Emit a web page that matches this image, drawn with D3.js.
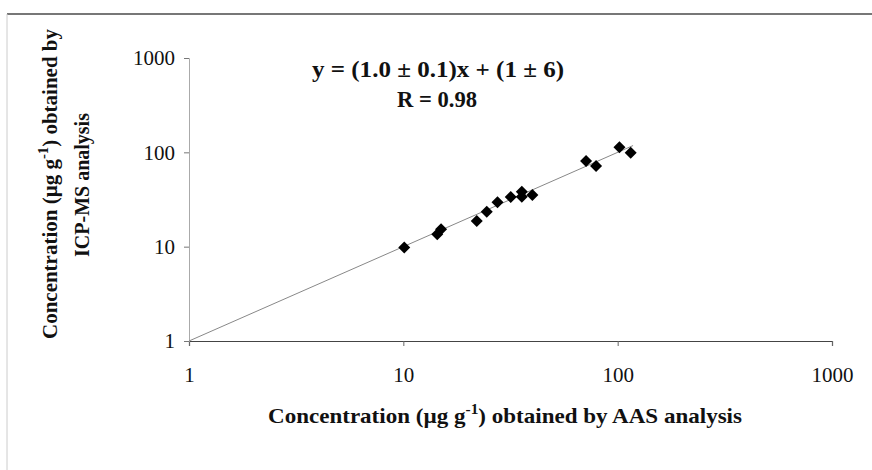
<!DOCTYPE html>
<html>
<head>
<meta charset="utf-8">
<script src="https://cdn.jsdelivr.net/npm/d3@7"></script>
<style>
  html, body { margin: 0; padding: 0; background: #fff; }
  svg { display: block; }
  text { font-family: "Liberation Serif", "DejaVu Serif", serif; fill: #111; }
</style>
</head>
<body>
<svg id="chart" width="872" height="470"></svg>
<script>
// AAS vs ICP-MS concentrations (µg g-1)
const aasValues   = [10.1, 14.4, 15.0, 22.0, 24.5, 27.5, 31.7, 35.7, 35.7, 40.0, 71.2, 79.3, 101.9, 115.0];
const icpmsValues = [9.8, 13.5, 15.3, 18.7, 23.5, 29.5, 33.6, 38.3, 33.9, 35.3, 81.0, 71.6, 113.0, 99.0];
const tickValues  = [1, 10, 100, 1000];
const fitLine     = [[1, 1], [118, 118]];
const equationText = ["y = (1.0 ± 0.1)x + (1 ± 6)", "R = 0.98"];

const svg = d3.select("#chart");

const x = d3.scaleLog().domain([1, 1000]).range([189, 832]);
const y = d3.scaleLog().domain([1, 1000]).range([341, 58]);

// outer frame (top and left edges)
svg.append("line").attr("x1", 7).attr("x2", 872).attr("y1", 14).attr("y2", 14)
  .attr("stroke", "#777").attr("stroke-width", 2);
svg.append("line").attr("x1", 7).attr("x2", 7).attr("y1", 14).attr("y2", 470)
  .attr("stroke", "#ccc").attr("stroke-width", 1);

// axes
const xAxis = d3.axisBottom(x).tickValues(tickValues).tickFormat(d3.format("d"))
  .tickSizeInner(5).tickSizeOuter(5).tickPadding(21);
const yAxis = d3.axisLeft(y).tickValues(tickValues).tickFormat(d3.format("d"))
  .tickSizeInner(5).tickSizeOuter(5).tickPadding(9);

const gx = svg.append("g").attr("transform", `translate(0,${y(1)})`).call(xAxis);
gx.select(".domain").attr("stroke", "#444").attr("stroke-width", 1.2);
gx.selectAll(".tick line").attr("stroke", "#666");
gx.selectAll(".tick text").attr("font-size", 21).attr("fill", "#111")
  .style("font-family", "Liberation Serif, serif");

const gy = svg.append("g").attr("transform", `translate(${x(1)},0)`).call(yAxis);
gy.select(".domain").attr("stroke", "#aaa").attr("stroke-width", 1);
gy.selectAll(".tick line").attr("stroke", "#777");
gy.selectAll(".tick text").attr("font-size", 21).attr("fill", "#111")
  .style("font-family", "Liberation Serif, serif");

// fitted line
svg.append("path")
  .datum(fitLine)
  .attr("d", d3.line().x(d => x(d[0])).y(d => y(d[1])))
  .attr("fill", "none").attr("stroke", "#888").attr("stroke-width", 1);

// data markers (diamonds)
const points = aasValues.map((v, i) => ({ a: v, b: icpmsValues[i] }));
svg.append("g").selectAll("path")
  .data(points)
  .join("path")
  .attr("d", d3.symbol(d3.symbolSquare, 72))
  .attr("transform", d => `translate(${x(d.a)},${y(d.b)}) rotate(45)`)
  .attr("fill", "#000");

// regression equation
svg.append("text").attr("x", 438).attr("y", 77).attr("text-anchor", "middle")
  .attr("font-size", 23).attr("font-weight", "bold")
  .attr("textLength", 252).attr("lengthAdjust", "spacingAndGlyphs")
  .text(equationText[0]);
svg.append("text").attr("x", 437).attr("y", 107).attr("text-anchor", "middle")
  .attr("font-size", 23).attr("font-weight", "bold")
  .attr("textLength", 80).attr("lengthAdjust", "spacingAndGlyphs")
  .text(equationText[1]);

// axis titles
function unitLabel(sel, before, after) {
  sel.append("tspan").text(before + "(µg g");
  sel.append("tspan").attr("dy", -9).attr("font-size", 14).text("-1");
  sel.append("tspan").attr("dy", 9).text(")" + after);
}

const xt = svg.append("text").attr("x", 505).attr("y", 423).attr("text-anchor", "middle")
  .attr("font-size", 21).attr("font-weight", "bold")
  .attr("textLength", 474).attr("lengthAdjust", "spacingAndGlyphs");
unitLabel(xt, "Concentration ", " obtained by AAS analysis");

const yt = svg.append("text").attr("transform", "translate(57,184) rotate(-90)")
  .attr("text-anchor", "middle").attr("font-size", 20).attr("font-weight", "bold")
  .attr("textLength", 310).attr("lengthAdjust", "spacingAndGlyphs");
unitLabel(yt, "Concentration ", " obtained by");

svg.append("text").attr("transform", "translate(89,185) rotate(-90)")
  .attr("text-anchor", "middle").attr("font-size", 20).attr("font-weight", "bold")
  .text("ICP-MS analysis");
</script>
</body>
</html>
